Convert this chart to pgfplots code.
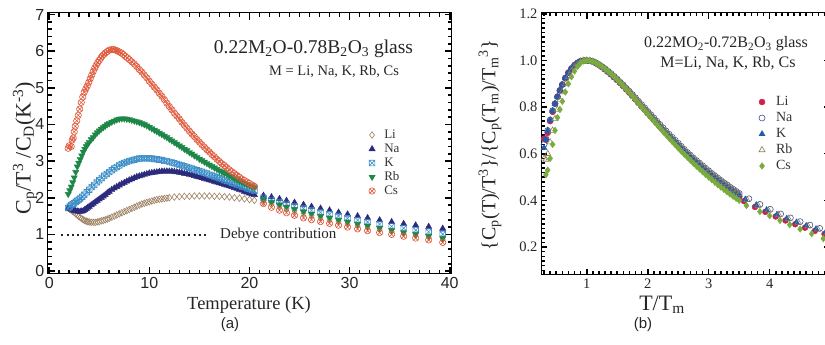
\documentclass[border=0pt]{standalone}
\usepackage{fontspec}
\setmainfont{Liberation Serif}
\setsansfont{Liberation Sans}
\usepackage{pgfplots}
\pgfplotsset{compat=1.18}
\usepackage{pgfplotstable}

\definecolor{cLi}{HTML}{9C8060}
\definecolor{cNa}{HTML}{2C2A7C}
\definecolor{cK}{HTML}{3D8FC8}
\definecolor{cRb}{HTML}{1D8748}
\definecolor{cCs}{HTML}{E0583A}
\definecolor{dLi}{HTML}{C8244C}
\definecolor{dNa}{HTML}{44508A}
\definecolor{dK}{HTML}{1F5CB0}
\definecolor{dRb}{HTML}{8C7C5C}
\definecolor{dCs}{HTML}{7AAB3E}
\tikzset{tk/.style={draw=black, line width=1.6pt}}

\pgfdeclareplotmark{boxtimes}{%
 \pgfpathrectangle{\pgfqpoint{-\pgfplotmarksize}{-\pgfplotmarksize}}{\pgfqpoint{2\pgfplotmarksize}{2\pgfplotmarksize}}%
 \pgfpathmoveto{\pgfqpoint{-\pgfplotmarksize}{-\pgfplotmarksize}}%
 \pgfpathlineto{\pgfqpoint{\pgfplotmarksize}{\pgfplotmarksize}}%
 \pgfpathmoveto{\pgfqpoint{-\pgfplotmarksize}{\pgfplotmarksize}}%
 \pgfpathlineto{\pgfqpoint{\pgfplotmarksize}{-\pgfplotmarksize}}%
 \pgfusepathqstroke}

\pgfplotstableread{
t     li     na     k      rb     cs
0.30 0.665 0.640 0.625 0.580 nan
0.33 0.660 0.665 0.660 0.575 0.510
0.36 0.690 0.700 0.700 0.600 0.530
0.40 0.740 0.745 0.745 0.650 0.580
0.44 0.780 0.785 0.785 0.700 0.640
0.48 0.815 0.815 0.815 0.750 0.700
0.52 0.845 0.845 0.845 0.790 0.755
0.56 0.872 0.872 0.872 0.830 0.790
0.60 0.897 0.897 0.897 0.865 0.825
0.65 0.925 0.925 0.925 0.900 0.865
0.70 0.948 0.948 0.948 0.930 0.900
0.75 0.966 0.966 0.966 0.955 0.930
0.80 0.980 0.980 0.980 0.972 0.955
0.85 0.990 0.990 0.990 0.985 0.975
0.90 0.997 0.997 0.997 0.994 0.990
0.95 1.000 1.000 1.000 0.999 0.998
1.00 1.000 1.000 1.000 1.000 1.000
1.05 0.999 0.999 0.999 0.999 1.000
1.10 0.995 0.996 0.995 0.996 0.996
1.15 0.989 0.990 0.989 0.990 0.990
1.20 0.981 0.983 0.981 0.982 0.983
1.25 0.972 0.974 0.972 0.973 0.974
1.30 0.962 0.965 0.962 0.964 0.965
1.35 0.951 0.954 0.951 0.953 0.954
1.40 0.940 0.944 0.940 0.943 0.943
1.45 0.928 0.932 0.928 0.931 0.931
1.50 0.916 0.920 0.917 0.919 0.918
1.55 0.903 0.907 0.904 0.906 0.905
1.60 0.890 0.895 0.891 0.893 0.891
1.65 0.876 0.881 0.877 0.879 0.877
1.70 0.862 0.868 0.864 0.866 0.862
1.75 0.848 0.854 0.850 0.852 0.847
1.80 0.833 0.840 0.835 0.838 0.832
1.85 0.818 0.825 0.820 0.823 0.816
1.90 0.803 0.811 0.806 0.809 0.801
1.95 0.789 0.797 0.792 0.795 0.786
2.00 0.774 0.782 0.777 0.780 0.771
2.05 0.760 0.768 0.763 0.766 0.756
2.10 0.745 0.754 0.749 0.751 0.741
2.15 0.731 0.740 0.735 0.737 0.726
2.20 0.716 0.726 0.721 0.722 0.711
2.25 0.702 0.712 0.707 0.708 0.696
2.30 0.688 0.698 0.693 0.694 0.682
2.35 0.674 0.684 0.679 0.680 0.667
2.40 0.660 0.671 0.666 0.667 0.653
2.45 0.646 0.658 0.653 0.654 0.639
2.50 0.633 0.645 0.640 0.641 0.625
2.55 0.620 0.632 0.627 0.628 0.611
2.60 0.607 0.619 0.614 0.616 0.598
2.65 0.594 0.606 0.601 0.604 0.585
2.70 0.582 0.594 0.589 0.592 0.572
2.75 0.570 0.582 0.577 0.580 0.559
2.80 0.558 0.571 0.566 0.569 0.547
2.85 0.546 0.560 0.554 0.558 0.535
2.90 0.535 0.549 0.543 0.547 0.523
2.95 0.524 0.538 0.532 0.536 0.511
3.00 0.513 0.527 0.521 0.526 0.500
3.05 0.502 0.516 0.510 0.515 0.489
3.10 0.492 0.506 0.500 0.505 0.478
3.15 0.482 0.496 0.490 0.495 0.467
3.20 0.472 0.486 0.480 0.485 0.457
3.25 0.462 0.476 0.470 0.475 0.447
3.30 0.452 0.467 0.461 0.466 0.437
3.35 0.442 0.457 0.451 0.456 0.427
3.40 0.433 0.448 0.442 0.447 0.418
3.45 0.424 0.439 0.433 0.438 0.409
3.50 0.415 0.430 0.424 0.429 0.400
}\densetab

\begin{document}
\begin{tikzpicture}
\path[use as bounding box] (0pt,0pt) rectangle (825pt,345pt);

% ---------------- panel (a) ----------------
\begin{axis}[
  at={(47.7pt,71pt)}, anchor=south west, scale only axis,
  width=404pt, height=261.3pt, clip=false,
  xmin=-0.15, xmax=40.2, ymin=-0.08, ymax=7.05,
  xtick={0,10,20,30,40}, ytick={0,1,2,3,4,5,6,7},
  tick align=inside, major tick length=7pt,
  tick style={draw=black, line width=1.4pt},
  axis line style={line width=1pt, black},
  ticklabel style={font=\sffamily\fontsize{16}{16}\selectfont, text=black!85},
  /pgf/number format/assume math mode=true,
  legend cell align=left,
  legend image code/.code={\draw[mark repeat=2,mark phase=2,#1] plot coordinates {(0pt,0pt)(6pt,0pt)(12pt,0pt)};},
  legend style={at={(0.795,0.5587)}, anchor=north west, draw=none, fill=none,
    inner sep=0pt, outer sep=0pt, row sep=0pt, column sep=8pt,
    font=\fontsize{13}{13}\selectfont,
    nodes={inner sep=1pt, text height=9pt, text depth=3pt, text=black!80}},
]
% tick marks along the frame
\pgfplotsinvokeforeach{1,2,3,4,5,6,7,8,9,11,12,13,14,15,16,17,18,19,21,22,23,24,25,26,27,28,29,31,32,33,34,35,36,37,38,39}{
  \draw[tk] (axis cs:#1,-0.08) -- ++(0pt,4pt);
  \draw[tk] (axis cs:#1,7.05) -- ++(0pt,-4pt);}
\pgfplotsinvokeforeach{0,10,20,30,40}{
  \draw[tk] (axis cs:#1,-0.08) -- ++(0pt,7pt);
  \draw[tk] (axis cs:#1,7.05) -- ++(0pt,-7pt);}
\pgfplotsinvokeforeach{0.2,0.4,0.6,0.8,1.2,1.4,1.6,1.8,2.2,2.4,2.6,2.8,3.2,3.4,3.6,3.8,4.2,4.4,4.6,4.8,5.2,5.4,5.6,5.8,6.2,6.4,6.6,6.8}{
  \draw[tk] (axis cs:-0.15,#1) -- ++(4pt,0pt);
  \draw[tk] (axis cs:40.2,#1) -- ++(-4pt,0pt);}
\pgfplotsinvokeforeach{0,1,2,3,4,5,6,7}{
  \draw[tk] (axis cs:-0.15,#1) -- ++(7pt,0pt);
  \draw[tk] (axis cs:40.2,#1) -- ++(-7pt,0pt);}

\addplot[forget plot, black!85, line width=2pt, dash pattern=on 2pt off 3.3pt] coordinates {(1.2,0.99) (15.7,0.99)};

\addplot[only marks, mark=diamond, mark size=3.3pt, color=cLi, mark options={line width=0.6pt}] coordinates {
(1.9,1.72)(2.05,1.69)(2.2,1.66)(2.35,1.63)(2.5,1.60)(2.65,1.56)(2.8,1.53)(2.95,1.49)(3.1,1.46)(3.25,1.43)(3.4,1.40)(3.55,1.38)(3.7,1.36)(3.85,1.35)(4.0,1.34)(4.2,1.33)(4.4,1.33)(4.6,1.33)(4.8,1.34)(5.0,1.35)(5.2,1.37)(5.4,1.38)(5.6,1.40)(5.8,1.42)(6.0,1.44)(6.25,1.47)(6.5,1.50)(6.75,1.53)(7.0,1.56)(7.25,1.59)(7.5,1.62)(7.75,1.65)(8.0,1.68)(8.25,1.71)(8.5,1.74)(8.75,1.77)(9.0,1.80)(9.25,1.83)(9.5,1.85)(9.75,1.87)(10.0,1.89)(10.25,1.91)(10.5,1.93)(10.75,1.95)(11.0,1.96)(11.25,1.97)(11.5,1.98)(11.75,1.99)(12.0,2.00)(12.5,2.02)(13.0,2.03)(13.5,2.04)(14.0,2.04)(14.5,2.05)(15.0,2.05)(15.5,2.05)(16.0,2.05)(16.5,2.04)(17.0,2.04)(17.5,2.03)(18.0,2.02)(18.5,2.00)(19.0,1.99)(19.5,1.97)(20.0,1.95)(20.5,1.93)
(21.4,1.88)(22.2,1.82)(23.0,1.76)(23.7,1.70)(24.5,1.64)(25.4,1.58)(26.2,1.52)(27.1,1.46)(28.0,1.41)(28.9,1.36)(29.8,1.30)(30.8,1.25)(31.8,1.20)(33.0,1.14)(34.2,1.08)(35.4,1.03)(36.6,0.98)(37.9,0.93)(39.3,0.87)};
\addlegendentry{Li}

\addplot[only marks, mark=triangle*, mark size=3.6pt, color=cNa] coordinates {
(1.9,1.72)(2.05,1.70)(2.2,1.68)(2.35,1.66)(2.5,1.65)(2.65,1.64)(2.8,1.63)(2.95,1.62)(3.1,1.62)(3.25,1.63)(3.4,1.64)(3.55,1.67)(3.7,1.70)(3.85,1.73)(4.0,1.76)(4.2,1.80)(4.4,1.84)(4.6,1.88)(4.8,1.92)(5.0,1.96)(5.2,2.00)(5.4,2.04)(5.6,2.08)(5.8,2.13)(6.0,2.17)(6.25,2.22)(6.5,2.26)(6.75,2.30)(7.0,2.34)(7.25,2.38)(7.5,2.41)(7.75,2.45)(8.0,2.48)(8.25,2.51)(8.5,2.54)(8.75,2.57)(9.0,2.59)(9.25,2.61)(9.5,2.63)(9.75,2.65)(10.0,2.67)(10.25,2.68)(10.5,2.69)(10.75,2.70)(11.0,2.71)(11.25,2.72)(11.5,2.72)(11.75,2.72)(12.0,2.72)(12.25,2.72)(12.5,2.71)(12.75,2.70)(13.0,2.69)(13.25,2.68)(13.5,2.66)(13.75,2.65)(14.0,2.63)(14.25,2.62)(14.5,2.60)(14.75,2.58)(15.0,2.56)(15.25,2.54)(15.5,2.52)(15.75,2.50)(16.0,2.48)(16.25,2.46)(16.5,2.44)(16.75,2.42)(17.0,2.40)(17.25,2.38)(17.5,2.36)(17.75,2.34)(18.0,2.32)(18.25,2.30)(18.5,2.27)(18.75,2.25)(19.0,2.22)(19.25,2.20)(19.5,2.17)(19.75,2.15)(20.0,2.12)(20.25,2.10)(20.5,2.08)
(21.4,2.06)(22.2,2.02)(23.0,1.97)(23.7,1.92)(24.5,1.87)(25.4,1.81)(26.2,1.76)(27.1,1.71)(28.0,1.66)(28.9,1.60)(29.8,1.55)(30.8,1.50)(31.8,1.45)(33.0,1.39)(34.2,1.34)(35.4,1.29)(36.6,1.25)(37.9,1.21)(39.3,1.16)};
\addlegendentry{Na}

\addplot[only marks, mark=boxtimes, mark size=2.8pt, color=cK, mark options={line width=0.6pt}] coordinates {
(1.9,1.72)(2.05,1.76)(2.2,1.80)(2.35,1.83)(2.5,1.85)(2.65,1.89)(2.8,1.92)(2.95,1.95)(3.1,1.98)(3.3,2.03)(3.5,2.08)(3.75,2.15)(4.0,2.22)(4.25,2.29)(4.5,2.35)(4.75,2.42)(5.0,2.48)(5.25,2.54)(5.5,2.60)(5.75,2.65)(6.0,2.70)(6.25,2.75)(6.5,2.80)(6.75,2.84)(7.0,2.88)(7.25,2.92)(7.5,2.95)(7.75,2.98)(8.0,3.00)(8.25,3.02)(8.5,3.04)(8.75,3.06)(9.0,3.07)(9.25,3.08)(9.5,3.08)(9.75,3.08)(10.0,3.08)(10.25,3.07)(10.5,3.06)(10.75,3.05)(11.0,3.04)(11.25,3.03)(11.5,3.01)(11.75,3.00)(12.0,2.98)(12.25,2.96)(12.5,2.94)(12.75,2.92)(13.0,2.90)(13.25,2.88)(13.5,2.86)(13.75,2.84)(14.0,2.82)(14.25,2.80)(14.5,2.77)(14.75,2.75)(15.0,2.73)(15.25,2.71)(15.5,2.68)(15.75,2.66)(16.0,2.63)(16.25,2.61)(16.5,2.58)(16.75,2.56)(17.0,2.53)(17.25,2.51)(17.5,2.48)(17.75,2.46)(18.0,2.44)(18.25,2.41)(18.5,2.39)(18.75,2.36)(19.0,2.34)(19.25,2.31)(19.5,2.29)(19.75,2.26)(20.0,2.24)(20.25,2.21)(20.5,2.19)
(21.4,2.00)(22.2,1.94)(23.0,1.88)(23.7,1.83)(24.5,1.77)(25.4,1.71)(26.2,1.66)(27.1,1.60)(28.0,1.55)(28.9,1.50)(29.8,1.44)(30.8,1.39)(31.8,1.34)(33.0,1.28)(34.2,1.22)(35.4,1.17)(36.6,1.12)(37.9,1.07)(39.3,1.01)};
\addlegendentry{K}

\addplot[only marks, mark=triangle*, mark size=3.6pt, color=cRb, mark options={rotate=180}] coordinates {
(1.9,2.10)(2.05,2.20)(2.2,2.30)(2.35,2.42)(2.5,2.55)(2.65,2.70)(2.8,2.85)(2.95,2.95)(3.1,3.05)(3.25,3.15)(3.4,3.25)(3.55,3.33)(3.7,3.40)(3.85,3.46)(4.0,3.52)(4.2,3.59)(4.4,3.65)(4.6,3.72)(4.8,3.78)(5.0,3.83)(5.2,3.88)(5.4,3.92)(5.6,3.96)(5.8,4.00)(6.0,4.03)(6.25,4.07)(6.5,4.10)(6.75,4.13)(7.0,4.15)(7.25,4.16)(7.5,4.16)(7.75,4.15)(8.0,4.14)(8.25,4.12)(8.5,4.10)(8.75,4.08)(9.0,4.06)(9.25,4.03)(9.5,4.00)(9.75,3.97)(10.0,3.93)(10.25,3.89)(10.5,3.85)(10.75,3.81)(11.0,3.77)(11.25,3.73)(11.5,3.69)(11.75,3.65)(12.0,3.60)(12.25,3.56)(12.5,3.51)(12.75,3.47)(13.0,3.42)(13.25,3.38)(13.5,3.33)(13.75,3.29)(14.0,3.24)(14.25,3.20)(14.5,3.15)(14.75,3.11)(15.0,3.06)(15.25,3.02)(15.5,2.98)(15.75,2.94)(16.0,2.90)(16.25,2.86)(16.5,2.82)(16.75,2.78)(17.0,2.74)(17.25,2.71)(17.5,2.67)(17.75,2.64)(18.0,2.60)(18.25,2.57)(18.5,2.53)(18.75,2.50)(19.0,2.46)(19.25,2.43)(19.5,2.40)(19.75,2.37)(20.0,2.34)(20.25,2.31)(20.5,2.28)
(21.4,1.95)(22.2,1.88)(23.0,1.81)(23.7,1.75)(24.5,1.69)(25.4,1.62)(26.2,1.56)(27.1,1.50)(28.0,1.45)(28.9,1.39)(29.8,1.34)(30.8,1.28)(31.8,1.23)(33.0,1.17)(34.2,1.11)(35.4,1.05)(36.6,1.00)(37.9,0.95)(39.3,0.89)};
\addlegendentry{Rb}

\addplot[only marks, mark=otimes, mark size=3.2pt, color=cCs, mark options={line width=0.6pt}] coordinates {
(1.9,3.35)(2.0,3.42)(2.2,3.40)(2.3,3.58)(2.4,3.63)(2.5,3.80)(2.6,3.95)(2.75,4.10)(2.9,4.25)(3.05,4.42)(3.2,4.60)(3.35,4.75)(3.5,4.88)(3.65,4.97)(3.8,5.05)(3.95,5.15)(4.1,5.25)(4.25,5.35)(4.4,5.45)(4.55,5.54)(4.7,5.62)(4.85,5.69)(5.0,5.75)(5.15,5.81)(5.3,5.87)(5.45,5.91)(5.6,5.95)(5.8,5.99)(6.0,6.03)(6.2,6.04)(6.4,6.05)(6.6,6.03)(6.8,6.01)(7.0,5.98)(7.2,5.95)(7.4,5.91)(7.6,5.86)(7.8,5.82)(8.0,5.77)(8.25,5.71)(8.5,5.65)(8.75,5.58)(9.0,5.50)(9.25,5.43)(9.5,5.35)(9.75,5.27)(10.0,5.18)(10.25,5.10)(10.5,5.02)(10.75,4.94)(11.0,4.85)(11.25,4.77)(11.5,4.68)(11.75,4.58)(12.0,4.49)(12.25,4.40)(12.5,4.31)(12.75,4.23)(13.0,4.15)(13.25,4.06)(13.5,3.98)(13.75,3.90)(14.0,3.82)(14.25,3.74)(14.5,3.67)(14.75,3.59)(15.0,3.52)(15.25,3.45)(15.5,3.38)(15.75,3.31)(16.0,3.25)(16.25,3.18)(16.5,3.12)(16.75,3.05)(17.0,2.99)(17.25,2.93)(17.5,2.88)(17.75,2.82)(18.0,2.76)(18.25,2.71)(18.5,2.66)(18.75,2.61)(19.0,2.56)(19.25,2.51)(19.5,2.47)(19.75,2.43)(20.0,2.39)(20.25,2.35)(20.5,2.31)
(21.4,1.84)(22.2,1.74)(23.0,1.66)(23.7,1.59)(24.5,1.52)(25.4,1.45)(26.2,1.40)(27.1,1.35)(28.0,1.30)(28.9,1.25)(29.8,1.20)(30.8,1.15)(31.8,1.10)(33.0,1.05)(34.2,1.00)(35.4,0.95)(36.6,0.90)(37.9,0.85)(39.3,0.78)};
\addlegendentry{Cs}
\end{axis}

% ---------------- panel (b) ----------------
\begin{axis}[
  at={(541pt,70pt)}, anchor=south west, scale only axis,
  width=289pt, height=262pt, clip=false,
  xmin=0.25, xmax=4.99, ymin=0.08, ymax=1.204,
  xtick={1,2,3,4}, ytick={0.2,0.4,0.6,0.8,1.0,1.2},
  tick align=inside, major tick length=6pt,
  tick style={draw=black, line width=1.4pt},
  axis line style={line width=1pt, black},
  ticklabel style={font=\fontsize{14.5}{14.5}\selectfont, text=black!85},
  yticklabel style={/pgf/number format/.cd, fixed, fixed zerofill, precision=1},
  /pgf/number format/assume math mode=true,
  legend cell align=left,
  legend image code/.code={\draw[mark repeat=2,mark phase=2,#1] plot coordinates {(0pt,0pt)(6pt,0pt)(12pt,0pt)};},
  legend style={at={(0.7543,0.6908)}, anchor=north west, draw=none, fill=none,
    inner sep=0pt, outer sep=0pt, row sep=0pt, column sep=10pt,
    font=\fontsize{14}{14}\selectfont,
    nodes={inner sep=1pt, text height=10.5pt, text depth=3.5pt, text=black!80}},
]
% tick marks along the frame
\pgfplotsinvokeforeach{0.3,0.4,0.5,0.6,0.7,0.8,0.9,1.1,1.2,1.3,1.4,1.5,1.6,1.7,1.8,1.9,2.1,2.2,2.3,2.4,2.5,2.6,2.7,2.8,2.9,3.1,3.2,3.3,3.4,3.5,3.6,3.7,3.8,3.9,4.1,4.2,4.3,4.4,4.5,4.6,4.7,4.8,4.9}{
  \draw[tk] (axis cs:#1,0.08) -- ++(0pt,3.5pt);
  \draw[tk] (axis cs:#1,1.204) -- ++(0pt,-3.5pt);}
\pgfplotsinvokeforeach{1,2,3,4}{
  \draw[tk] (axis cs:#1,0.08) -- ++(0pt,6pt);
  \draw[tk] (axis cs:#1,1.204) -- ++(0pt,-6pt);}
\pgfplotsinvokeforeach{0.10,0.12,0.14,0.16,0.18,0.22,0.24,0.26,0.28,0.30,0.32,0.34,0.36,0.38,0.42,0.44,0.46,0.48,0.50,0.52,0.54,0.56,0.58,0.62,0.64,0.66,0.68,0.70,0.72,0.74,0.76,0.78,0.82,0.84,0.86,0.88,0.90,0.92,0.94,0.96,0.98,1.02,1.04,1.06,1.08,1.10,1.12,1.14,1.16,1.18}{
  \draw[tk] (axis cs:0.25,#1) -- ++(3.5pt,0pt);}
\pgfplotsinvokeforeach{0.2,0.4,0.6,0.8,1.0,1.2}{
  \draw[tk] (axis cs:0.25,#1) -- ++(6pt,0pt);}

\addplot[only marks, mark=*, mark size=3pt, color=dLi] table[x=t, y=li] {\densetab};
\addplot[only marks, mark=*, mark size=3pt, color=dLi, forget plot] coordinates {
(3.58,0.397)(3.76,0.372)(3.93,0.351)(4.10,0.331)(4.26,0.314)(4.42,0.298)(4.58,0.283)(4.74,0.269)(4.90,0.256)};
\addlegendentry{Li}

\addplot[only marks, mark=o, mark size=3pt, color=dNa, mark options={line width=0.6pt}] table[x=t, y=na] {\densetab};
\addplot[only marks, mark=o, mark size=3pt, color=dNa, mark options={line width=0.6pt}, forget plot] coordinates {
(3.66,0.407)(3.84,0.383)(4.01,0.362)(4.18,0.342)(4.34,0.325)(4.50,0.309)(4.66,0.294)(4.82,0.280)(4.98,0.267)};
\addlegendentry{Na}

\addplot[only marks, mark=triangle*, mark size=3.5pt, color=dK] table[x=t, y=k] {\densetab};
\addplot[only marks, mark=triangle*, mark size=3.5pt, color=dK, forget plot] coordinates {
(3.60,0.404)(3.78,0.380)(3.95,0.359)(4.12,0.339)(4.28,0.322)(4.44,0.306)(4.60,0.291)(4.76,0.277)(4.92,0.264)};
\addlegendentry{K}

\addplot[only marks, mark=triangle, mark size=3.5pt, color=dRb, mark options={line width=0.6pt}] table[x=t, y=rb] {\densetab};
\addplot[only marks, mark=triangle, mark size=3.5pt, color=dRb, mark options={line width=0.6pt}, forget plot] coordinates {
(3.63,0.402)(3.81,0.378)(3.98,0.357)(4.15,0.338)(4.31,0.321)(4.47,0.305)(4.63,0.290)(4.79,0.276)(4.95,0.263)};
\addlegendentry{Rb}

\addplot[only marks, mark=diamond*, mark size=3.3pt, color=dCs] table[x=t, y=cs] {\densetab};
\addplot[only marks, mark=diamond*, mark size=3.3pt, color=dCs, forget plot] coordinates {
(3.62,0.378)(3.84,0.352)(4.00,0.334)(4.17,0.314)(4.33,0.296)(4.50,0.277)(4.69,0.257)(4.88,0.236)};
\addlegendentry{Cs}
\end{axis}

% ---------------- texts ----------------
\node[font=\fontsize{19.5}{20}\selectfont, text=black!85] at (313.5pt,296pt) {0.22M\textsubscript{2}O-0.78B\textsubscript{2}O\textsubscript{3} glass};
\node[font=\fontsize{14.5}{15}\selectfont, text=black!85] at (334pt,273pt) {M = Li, Na, K, Rb, Cs};
\node[font=\fontsize{15}{15}\selectfont, text=black!85, anchor=west, inner sep=0pt] at (220pt,110.5pt) {Debye contribution};
\node[font=\fontsize{18.5}{19}\selectfont, text=black!85] at (249pt,40pt) {Temperature (K)};
\node[font=\fontsize{22}{22}\selectfont, text=black!85, rotate=90] at (25pt,197pt) {C\textsubscript{p}/T\textsuperscript{3} /C\textsubscript{D}(K\textsuperscript{-3})};
\node[font=\sffamily\fontsize{15}{15}\selectfont, text=black!85] at (230pt,20pt) {(a)};

\node[font=\fontsize{16}{16}\selectfont, text=black!85] at (726pt,301pt) {0.22MO\textsubscript{2}-0.72B\textsubscript{2}O\textsubscript{3} glass};
\node[font=\fontsize{16}{16}\selectfont, text=black!85] at (728pt,282pt) {M=Li, Na, K, Rb, Cs};
\node[font=\fontsize{20}{20}\selectfont, text=black!85, rotate=90] at (490pt,200pt) {\{C\textsubscript{p}(T)/T\textsuperscript{3}\}/\{C\textsubscript{p}(T\textsubscript{m})/T\textsubscript{m}\textsuperscript{3}\}};
\node[font=\fontsize{22}{22}\selectfont, text=black!85] at (662pt,40pt) {T/T\textsubscript{m}};
\node[font=\sffamily\fontsize{15}{15}\selectfont, text=black!85] at (643pt,20pt) {(b)};
\end{tikzpicture}
\end{document}
